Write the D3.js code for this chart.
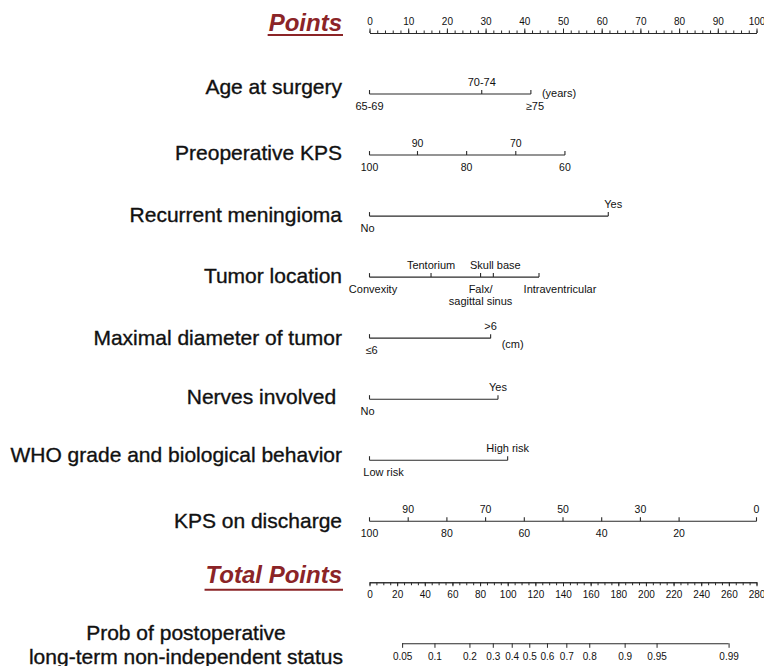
<!DOCTYPE html>
<html>
<head>
<meta charset="utf-8">
<script src="https://cdn.jsdelivr.net/npm/d3@7"></script>
<style>
  html, body { margin: 0; padding: 0; background: #fff; }
  svg { display: block; }
  text { font-family: "Liberation Sans", Arial, sans-serif; fill: #111; }
  text.big { stroke: #111; stroke-width: 0.35px; }
</style>
</head>
<body>
<svg id="chart" width="764" height="666"></svg>
<script>
// ---------------- DATA ----------------
const rowNames = ["Points", "Age at surgery", "Preoperative KPS", "Recurrent meningioma",
  "Tumor location", "Maximal diameter of tumor", "Nerves involved ",
  "WHO grade and biological behavior", "KPS on discharge", "Total Points", "Prob"];

const pointsTicks = [0, 10, 20, 30, 40, 50, 60, 70, 80, 90, 100];
const pointsMinorTicks = [0, 2, 4, 6, 8, 10, 12, 14, 16, 18, 20, 22, 24, 26, 28, 30, 32, 34, 36, 38, 40,
  42, 44, 46, 48, 50, 52, 54, 56, 58, 60, 62, 64, 66, 68, 70, 72, 74, 76, 78, 80,
  82, 84, 86, 88, 90, 92, 94, 96, 98, 100];

const ageLevels = ["65-69", "70-74", "≥75"];
const agePoints = [0, 29.0, 41.7];

const preKpsLevels = ["100", "90", "80", "70", "60"];
const preKpsPoints = [0, 12.4, 25.1, 37.8, 50.5];

const recurrentLevels = ["No", "Yes"];
const recurrentPoints = [0, 61.7];

const locationLevels = ["Convexity", "Tentorium", "Falx/|sagittal sinus", "Skull base", "Intraventricular"];
const locationPoints = [0, 15.9, 28.7, 32.0, 43.8];

const diameterLevels = ["≤6", ">6"];
const diameterPoints = [0, 31.3];

const nervesLevels = ["No", "Yes"];
const nervesPoints = [0, 33.2];

const whoLevels = ["Low risk", "High risk"];
const whoPoints = [0, 35.7];

const dischargeKpsLevels = ["100", "90", "80", "70", "60", "50", "40", "30", "20", "0"];
const dischargeKpsPoints = [0, 10, 20, 30, 40, 50, 60, 70, 80, 100];

const totalTicks = [0, 20, 40, 60, 80, 100, 120, 140, 160, 180, 200, 220, 240, 260, 280];
const totalMinorTicks = d3.range(0, 281, 5);

const probTicks = ["0.05", "0.1", "0.2", "0.3", "0.4", "0.5", "0.6", "0.7", "0.8", "0.9", "0.95", "0.99"];
const probTotalPoints = [23.6, 47.0, 72.3, 89.2, 102.9, 115.6, 128.4, 142.4, 159.0, 184.6, 207.7, 259.8];

// ---------------- LAYOUT ----------------
const svg = d3.select("#chart");
const titleColor = "#8b2427";
const lineColor = "#2a2a2a";
const x = d3.scaleLinear().domain([0, 100]).range([369.5, 756.5]);
const xTotal = d3.scaleLinear().domain([0, 280]).range([369.5, 756.5]);
const y = d3.scalePoint().domain(rowNames).range([33, 643.3]);
const labelRight = 342;

// variables: levels, points, side of label (t/b), label dx
const variables = [
  { row: "Age at surgery", levels: ageLevels, points: agePoints, sides: ["b", "t", "b"], dx: [0, 0, 4], fs: 11, labelDy: 0, unit: "(years)", unitDx: 11, unitDy: 3 },
  { row: "Preoperative KPS", levels: preKpsLevels, points: preKpsPoints, sides: ["b", "t", "b", "t", "b"], dx: [0, 0, 0, 0, 0], fs: 10.5, labelDy: 5 },
  { row: "Recurrent meningioma", levels: recurrentLevels, points: recurrentPoints, sides: ["b", "t"], dx: [-2, 5], fs: 11, labelDy: 6 },
  { row: "Tumor location", levels: locationLevels, points: locationPoints, sides: ["b", "t", "b", "t", "b"], dx: [3.5, 0, 0, 2, 21], fs: 11, labelDy: 6 },
  { row: "Maximal diameter of tumor", levels: diameterLevels, points: diameterPoints, sides: ["b", "t"], dx: [2, 0], fs: 11, labelDy: 6.5, unit: "(cm)", unitDx: 11, unitDy: 10 },
  { row: "Nerves involved ", levels: nervesLevels, points: nervesPoints, sides: ["b", "t"], dx: [-2, 0], fs: 11, labelDy: 4.5 },
  { row: "WHO grade and biological behavior", levels: whoLevels, points: whoPoints, sides: ["b", "t"], dx: [14, 0], fs: 11, labelDy: 2 },
  { row: "KPS on discharge", levels: dischargeKpsLevels, points: dischargeKpsPoints, sides: ["b", "t", "b", "t", "b", "t", "b", "t", "b", "t"], dx: [0,0,0,0,0,0,0,0,0,0], fs: 10.5, labelDy: 7 }
];

// ---------------- TITLES ----------------
function underlinedTitle(txt, baseY, underY) {
  const t = svg.append("text")
    .attr("x", labelRight).attr("y", baseY)
    .attr("text-anchor", "end")
    .style("font-size", "24px").style("font-weight", "bold").style("font-style", "italic")
    .style("fill", titleColor)
    .text(txt);
  const w = t.node().getComputedTextLength();
  svg.append("line")
    .attr("x1", labelRight - w - 1).attr("x2", labelRight + 1)
    .attr("y1", underY).attr("y2", underY)
    .attr("stroke", titleColor).attr("stroke-width", 2);
}
underlinedTitle("Points", y("Points") - 2.5, y("Points") + 2);
underlinedTitle("Total Points", y("Total Points") + 0.5, y("Total Points") + 7.5);

// ---------------- POINTS AXIS ----------------
const gPts = svg.append("g").attr("transform", `translate(0,${y("Points")})`);
gPts.call(d3.axisTop(x).tickValues(pointsMinorTicks).tickSize(2.5).tickSizeOuter(0).tickFormat(""));
gPts.call(g => g.append("g").call(d3.axisTop(x).tickValues(pointsTicks).tickSize(4.5).tickPadding(3.5).tickSizeOuter(0)));
gPts.selectAll("path.domain").attr("stroke", lineColor);
gPts.selectAll("line").attr("stroke", lineColor);
gPts.selectAll("text").style("font-size", "10px").style("font-family", "Liberation Sans, Arial, sans-serif").attr("fill", "#111");

// ---------------- VARIABLE ROWS ----------------
variables.forEach(v => {
  const ly = y(v.row);
  svg.append("text")
    .attr("class", "big")
    .attr("x", labelRight).attr("y", ly + v.labelDy)
    .attr("text-anchor", "end")
    .style("font-size", "21px")
    .style("white-space", "pre")
    .text(v.row);

  const g = svg.append("g").attr("transform", `translate(0,${ly})`);
  g.append("line")
    .attr("x1", x(d3.min(v.points))).attr("x2", x(d3.max(v.points)))
    .attr("y1", 0).attr("y2", 0)
    .attr("stroke", lineColor).attr("stroke-width", 1.1);
  g.selectAll("line.tick").data(v.points).join("line")
    .attr("class", "tick")
    .attr("x1", d => x(d)).attr("x2", d => x(d))
    .attr("y1", 0).attr("y2", -4)
    .attr("stroke", lineColor).attr("stroke-width", 1.1);
  v.levels.forEach((lab, i) => {
    const parts = lab.split("|");
    const top = v.sides[i] === "t";
    const t = g.append("text")
      .attr("x", x(v.points[i]) + v.dx[i])
      .attr("y", top ? -8 : 15.5)
      .attr("text-anchor", "middle")
      .style("font-size", v.fs + "px");
    parts.forEach((p, k) => {
      t.append("tspan").attr("x", x(v.points[i]) + v.dx[i]).attr("dy", k === 0 ? 0 : 12.5).text(p);
    });
  });
  if (v.unit) {
    g.append("text")
      .attr("x", x(d3.max(v.points)) + v.unitDx).attr("y", v.unitDy)
      .style("font-size", "11px")
      .text(v.unit);
  }
});

// ---------------- TOTAL POINTS AXIS ----------------
const gTot = svg.append("g").attr("transform", `translate(0,${y("Total Points")})`);
gTot.call(d3.axisBottom(xTotal).tickValues(totalMinorTicks).tickSize(3).tickSizeOuter(0).tickFormat(""));
gTot.call(g => g.append("g").call(d3.axisBottom(xTotal).tickValues(totalTicks).tickSize(4).tickPadding(5).tickSizeOuter(0)));
gTot.selectAll("path.domain").attr("stroke", lineColor);
gTot.selectAll("line").attr("stroke", lineColor);
gTot.selectAll("text").style("font-size", "10px").style("font-family", "Liberation Sans, Arial, sans-serif").attr("fill", "#111");

// ---------------- PROBABILITY AXIS ----------------
const gProb = svg.append("g").attr("transform", `translate(0,${y("Prob")})`);
gProb.call(d3.axisBottom(xTotal).tickValues(probTotalPoints).tickSize(4.5).tickPadding(5)
  .tickFormat((d, i) => probTicks[i]));
gProb.select("path.domain").remove();
gProb.append("line")
  .attr("x1", xTotal(probTotalPoints[0])).attr("x2", xTotal(probTotalPoints[probTotalPoints.length - 1]))
  .attr("y1", 0.5).attr("y2", 0.5)
  .attr("stroke", lineColor).attr("stroke-width", 1.1);
gProb.selectAll("line").attr("stroke", lineColor);
gProb.selectAll("text").style("font-size", "10px").style("font-family", "Liberation Sans, Arial, sans-serif").attr("fill", "#111");

// Probability label (two centered lines)
const probLine2 = svg.append("text")
  .attr("class", "big")
  .attr("x", labelRight + 1).attr("y", y("Prob") + 21)
  .attr("text-anchor", "end").style("font-size", "21px")
  .text("long-term non-independent status");
const w2 = probLine2.node().getComputedTextLength();
svg.append("text")
  .attr("class", "big")
  .attr("x", labelRight + 1 - w2 / 2).attr("y", y("Prob") - 3)
  .attr("text-anchor", "middle").style("font-size", "21px")
  .text("Prob of postoperative");
</script>
</body>
</html>
